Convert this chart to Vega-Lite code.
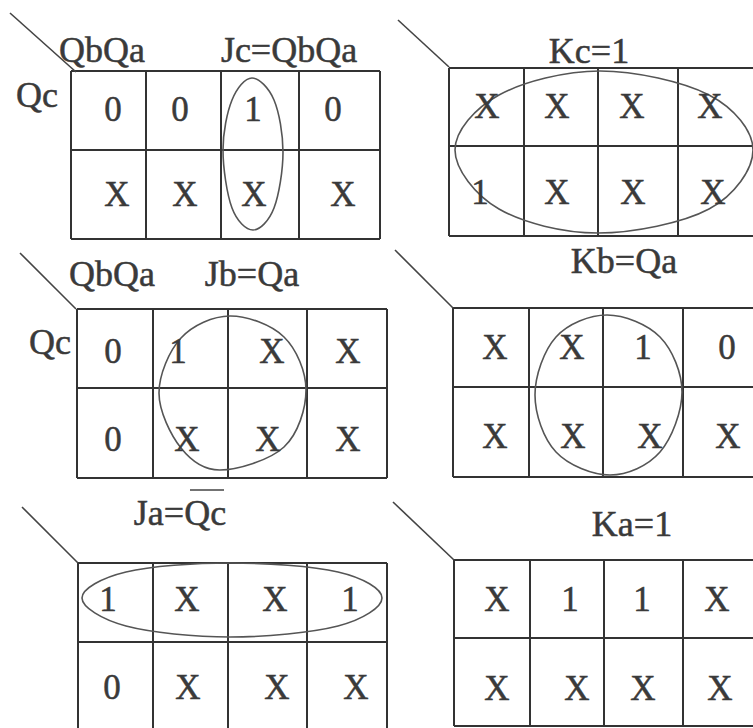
{
  "$schema": "https://vega.github.io/schema/vega-lite/v6.json",
  "width": 753,
  "height": 728,
  "autosize": {"type": "none"},
  "padding": 0,
  "background": "white",
  "config": {"view": {"stroke": null}},
  "datasets": {
    "grid": [
      {"x": 71, "y": 71, "x2": 380, "y2": 71},
      {"x": 71, "y": 150, "x2": 380, "y2": 150},
      {"x": 71, "y": 239, "x2": 380, "y2": 239},
      {"x": 71, "y": 71, "x2": 71, "y2": 239},
      {"x": 146, "y": 71, "x2": 146, "y2": 239},
      {"x": 221, "y": 71, "x2": 221, "y2": 239},
      {"x": 299, "y": 71, "x2": 299, "y2": 239},
      {"x": 380, "y": 71, "x2": 380, "y2": 239},
      {"x": 449, "y": 68, "x2": 760, "y2": 68},
      {"x": 449, "y": 146, "x2": 760, "y2": 146},
      {"x": 449, "y": 236, "x2": 760, "y2": 236},
      {"x": 449, "y": 68, "x2": 449, "y2": 236},
      {"x": 524, "y": 68, "x2": 524, "y2": 236},
      {"x": 598, "y": 68, "x2": 598, "y2": 236},
      {"x": 678, "y": 68, "x2": 678, "y2": 236},
      {"x": 77, "y": 309, "x2": 387, "y2": 309},
      {"x": 77, "y": 388, "x2": 387, "y2": 388},
      {"x": 77, "y": 478, "x2": 387, "y2": 478},
      {"x": 77, "y": 309, "x2": 77, "y2": 478},
      {"x": 153, "y": 309, "x2": 153, "y2": 478},
      {"x": 228, "y": 309, "x2": 228, "y2": 478},
      {"x": 307, "y": 309, "x2": 307, "y2": 478},
      {"x": 387, "y": 309, "x2": 387, "y2": 478},
      {"x": 453, "y": 308, "x2": 760, "y2": 308},
      {"x": 453, "y": 387, "x2": 760, "y2": 387},
      {"x": 453, "y": 477, "x2": 760, "y2": 477},
      {"x": 453, "y": 308, "x2": 453, "y2": 477},
      {"x": 529, "y": 308, "x2": 529, "y2": 477},
      {"x": 603, "y": 308, "x2": 603, "y2": 477},
      {"x": 683, "y": 308, "x2": 683, "y2": 477},
      {"x": 78, "y": 563, "x2": 387, "y2": 563},
      {"x": 78, "y": 642, "x2": 387, "y2": 642},
      {"x": 78, "y": 563, "x2": 78, "y2": 740},
      {"x": 153, "y": 563, "x2": 153, "y2": 740},
      {"x": 228, "y": 563, "x2": 228, "y2": 740},
      {"x": 307, "y": 563, "x2": 307, "y2": 740},
      {"x": 387, "y": 563, "x2": 387, "y2": 740},
      {"x": 454, "y": 560, "x2": 760, "y2": 560},
      {"x": 454, "y": 638, "x2": 760, "y2": 638},
      {"x": 454, "y": 726, "x2": 760, "y2": 726},
      {"x": 454, "y": 560, "x2": 454, "y2": 726},
      {"x": 530, "y": 560, "x2": 530, "y2": 726},
      {"x": 604, "y": 560, "x2": 604, "y2": 726},
      {"x": 683, "y": 560, "x2": 683, "y2": 726}
    ],
    "slashes": [
      {"x": 10, "y": 13, "x2": 76, "y2": 72},
      {"x": 398, "y": 20, "x2": 449, "y2": 67},
      {"x": 20, "y": 253, "x2": 76, "y2": 309},
      {"x": 395, "y": 250, "x2": 453, "y2": 308},
      {"x": 22, "y": 507, "x2": 78, "y2": 563},
      {"x": 393, "y": 502, "x2": 454, "y2": 560},
      {"x": 190, "y": 490, "x2": 224, "y2": 490}
    ],
    "labels": [
      {"x": 102, "y": 51, "t": "QbQa"},
      {"x": 289, "y": 51, "t": "Jc=QbQa"},
      {"x": 37, "y": 96, "t": "Qc"},
      {"x": 589, "y": 52, "t": "Kc=1"},
      {"x": 112, "y": 275, "t": "QbQa"},
      {"x": 252, "y": 275, "t": "Jb=Qa"},
      {"x": 50, "y": 343, "t": "Qc"},
      {"x": 624, "y": 262, "t": "Kb=Qa"},
      {"x": 180, "y": 514, "t": "Ja=Qc"},
      {"x": 632, "y": 525, "t": "Ka=1"}
    ],
    "cells": [
      {"m": "Jc", "x": 113, "y": 110, "v": "0"},
      {"m": "Jc", "x": 180, "y": 110, "v": "0"},
      {"m": "Jc", "x": 253, "y": 110, "v": "1"},
      {"m": "Jc", "x": 333, "y": 110, "v": "0"},
      {"m": "Jc", "x": 117, "y": 195, "v": "X"},
      {"m": "Jc", "x": 185, "y": 195, "v": "X"},
      {"m": "Jc", "x": 254, "y": 195, "v": "X"},
      {"m": "Jc", "x": 343, "y": 195, "v": "X"},
      {"m": "Kc", "x": 487, "y": 107, "v": "X"},
      {"m": "Kc", "x": 557, "y": 107, "v": "X"},
      {"m": "Kc", "x": 632, "y": 107, "v": "X"},
      {"m": "Kc", "x": 710, "y": 107, "v": "X"},
      {"m": "Kc", "x": 480, "y": 193, "v": "1"},
      {"m": "Kc", "x": 557, "y": 193, "v": "X"},
      {"m": "Kc", "x": 633, "y": 193, "v": "X"},
      {"m": "Kc", "x": 713, "y": 193, "v": "X"},
      {"m": "Jb", "x": 113, "y": 352, "v": "0"},
      {"m": "Jb", "x": 178, "y": 352, "v": "1"},
      {"m": "Jb", "x": 272, "y": 352, "v": "X"},
      {"m": "Jb", "x": 348, "y": 352, "v": "X"},
      {"m": "Jb", "x": 113, "y": 440, "v": "0"},
      {"m": "Jb", "x": 187, "y": 440, "v": "X"},
      {"m": "Jb", "x": 268, "y": 440, "v": "X"},
      {"m": "Jb", "x": 348, "y": 440, "v": "X"},
      {"m": "Kb", "x": 495, "y": 348, "v": "X"},
      {"m": "Kb", "x": 572, "y": 348, "v": "X"},
      {"m": "Kb", "x": 643, "y": 348, "v": "1"},
      {"m": "Kb", "x": 727, "y": 348, "v": "0"},
      {"m": "Kb", "x": 495, "y": 437, "v": "X"},
      {"m": "Kb", "x": 573, "y": 437, "v": "X"},
      {"m": "Kb", "x": 650, "y": 437, "v": "X"},
      {"m": "Kb", "x": 728, "y": 437, "v": "X"},
      {"m": "Ja", "x": 108, "y": 600, "v": "1"},
      {"m": "Ja", "x": 187, "y": 600, "v": "X"},
      {"m": "Ja", "x": 275, "y": 600, "v": "X"},
      {"m": "Ja", "x": 350, "y": 600, "v": "1"},
      {"m": "Ja", "x": 112, "y": 688, "v": "0"},
      {"m": "Ja", "x": 188, "y": 688, "v": "X"},
      {"m": "Ja", "x": 277, "y": 688, "v": "X"},
      {"m": "Ja", "x": 356, "y": 688, "v": "X"},
      {"m": "Ka", "x": 497, "y": 600, "v": "X"},
      {"m": "Ka", "x": 570, "y": 600, "v": "1"},
      {"m": "Ka", "x": 642, "y": 600, "v": "1"},
      {"m": "Ka", "x": 717, "y": 600, "v": "X"},
      {"m": "Ka", "x": 497, "y": 689, "v": "X"},
      {"m": "Ka", "x": 577, "y": 689, "v": "X"},
      {"m": "Ka", "x": 643, "y": 689, "v": "X"},
      {"m": "Ka", "x": 720, "y": 689, "v": "X"}
    ],
    "loops": [
      {"loop": "Jc", "k": 0, "x": 283, "y": 152},
      {"loop": "Jc", "k": 1, "x": 274, "y": 208},
      {"loop": "Jc", "k": 2, "x": 253, "y": 230},
      {"loop": "Jc", "k": 3, "x": 232, "y": 208},
      {"loop": "Jc", "k": 4, "x": 223, "y": 150},
      {"loop": "Jc", "k": 5, "x": 232, "y": 100},
      {"loop": "Jc", "k": 6, "x": 252, "y": 78},
      {"loop": "Jc", "k": 7, "x": 274, "y": 100},
      {"loop": "Kc", "k": 0, "x": 753, "y": 150},
      {"loop": "Kc", "k": 1, "x": 709, "y": 209},
      {"loop": "Kc", "k": 2, "x": 598, "y": 233},
      {"loop": "Kc", "k": 3, "x": 499, "y": 209},
      {"loop": "Kc", "k": 4, "x": 455, "y": 150},
      {"loop": "Kc", "k": 5, "x": 499, "y": 95},
      {"loop": "Kc", "k": 6, "x": 600, "y": 71},
      {"loop": "Kc", "k": 7, "x": 709, "y": 95},
      {"loop": "Jb", "k": 0, "x": 306, "y": 390},
      {"loop": "Jb", "k": 1, "x": 284, "y": 447},
      {"loop": "Jb", "k": 2, "x": 220, "y": 470},
      {"loop": "Jb", "k": 3, "x": 181, "y": 448},
      {"loop": "Jb", "k": 4, "x": 159, "y": 393},
      {"loop": "Jb", "k": 5, "x": 181, "y": 338},
      {"loop": "Jb", "k": 6, "x": 230, "y": 316},
      {"loop": "Jb", "k": 7, "x": 284, "y": 337},
      {"loop": "Kb", "k": 0, "x": 682, "y": 392},
      {"loop": "Kb", "k": 1, "x": 660, "y": 452},
      {"loop": "Kb", "k": 2, "x": 610, "y": 475},
      {"loop": "Kb", "k": 3, "x": 556, "y": 452},
      {"loop": "Kb", "k": 4, "x": 535, "y": 395},
      {"loop": "Kb", "k": 5, "x": 556, "y": 337},
      {"loop": "Kb", "k": 6, "x": 607, "y": 315},
      {"loop": "Kb", "k": 7, "x": 660, "y": 337},
      {"loop": "Ja", "k": 0, "x": 382, "y": 598},
      {"loop": "Ja", "k": 1, "x": 338, "y": 626},
      {"loop": "Ja", "k": 2, "x": 230, "y": 637},
      {"loop": "Ja", "k": 3, "x": 126, "y": 626},
      {"loop": "Ja", "k": 4, "x": 82, "y": 598},
      {"loop": "Ja", "k": 5, "x": 126, "y": 572},
      {"loop": "Ja", "k": 6, "x": 230, "y": 563},
      {"loop": "Ja", "k": 7, "x": 338, "y": 572}
    ]
  },
  "layer": [
    {
      "data": {"name": "grid"},
      "mark": {"type": "rule", "stroke": "#333333", "strokeWidth": 2},
      "encoding": {
        "x": {"field": "x", "type": "quantitative", "scale": {"domain": [0, 753], "nice": false, "zero": false}, "axis": null},
        "y": {"field": "y", "type": "quantitative", "scale": {"domain": [0, 728], "nice": false, "zero": false, "reverse": true}, "axis": null},
        "x2": {"field": "x2"},
        "y2": {"field": "y2"}
      }
    },
    {
      "data": {"name": "slashes"},
      "mark": {"type": "rule", "stroke": "#444444", "strokeWidth": 1.6},
      "encoding": {
        "x": {"field": "x", "type": "quantitative", "scale": {"domain": [0, 753], "nice": false, "zero": false}, "axis": null},
        "y": {"field": "y", "type": "quantitative", "scale": {"domain": [0, 728], "nice": false, "zero": false, "reverse": true}, "axis": null},
        "x2": {"field": "x2"},
        "y2": {"field": "y2"}
      }
    },
    {
      "data": {"name": "loops"},
      "mark": {"type": "line", "interpolate": "cardinal-closed", "stroke": "#555555", "strokeWidth": 1.6},
      "encoding": {
        "x": {"field": "x", "type": "quantitative", "scale": {"domain": [0, 753], "nice": false, "zero": false}, "axis": null},
        "y": {"field": "y", "type": "quantitative", "scale": {"domain": [0, 728], "nice": false, "zero": false, "reverse": true}, "axis": null},
        "detail": {"field": "loop", "type": "nominal"},
        "order": {"field": "k", "type": "quantitative"}
      }
    },
    {
      "data": {"name": "cells"},
      "mark": {"type": "text", "font": "Liberation Serif", "fontSize": 35, "fill": "#3a3a3a", "stroke": "#3a3a3a", "strokeWidth": 0.5, "align": "center", "baseline": "middle"},
      "encoding": {
        "x": {"field": "x", "type": "quantitative", "scale": {"domain": [0, 753], "nice": false, "zero": false}, "axis": null},
        "y": {"field": "y", "type": "quantitative", "scale": {"domain": [0, 728], "nice": false, "zero": false, "reverse": true}, "axis": null},
        "text": {"field": "v", "type": "nominal"}
      }
    },
    {
      "data": {"name": "labels"},
      "mark": {"type": "text", "font": "Liberation Serif", "fontSize": 36, "fill": "#3a3a3a", "stroke": "#3a3a3a", "strokeWidth": 0.5, "align": "center", "baseline": "middle"},
      "encoding": {
        "x": {"field": "x", "type": "quantitative", "scale": {"domain": [0, 753], "nice": false, "zero": false}, "axis": null},
        "y": {"field": "y", "type": "quantitative", "scale": {"domain": [0, 728], "nice": false, "zero": false, "reverse": true}, "axis": null},
        "text": {"field": "t", "type": "nominal"}
      }
    }
  ]
}
